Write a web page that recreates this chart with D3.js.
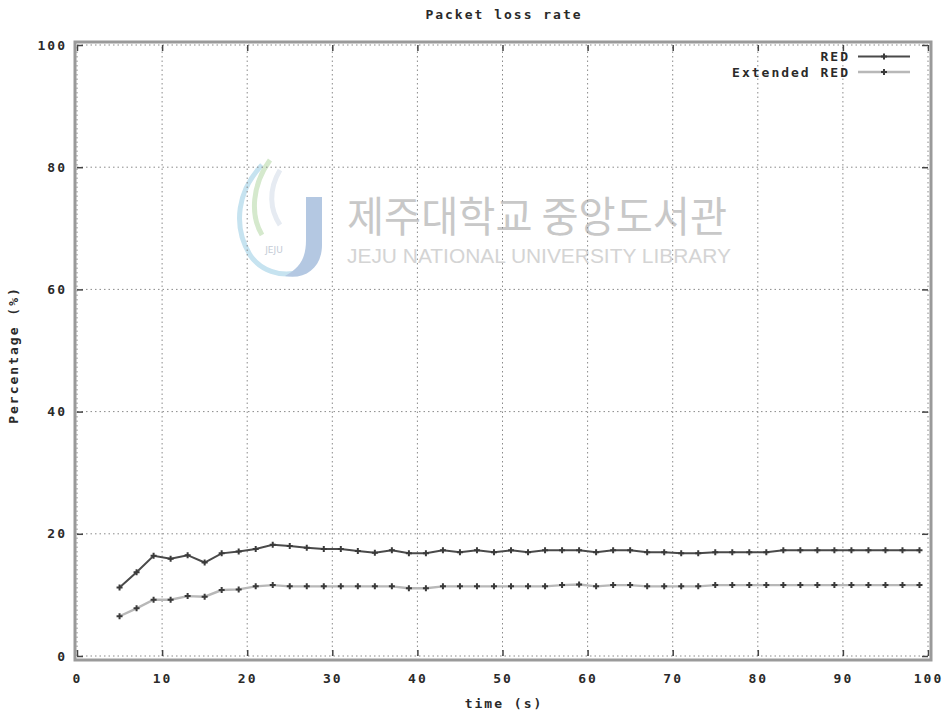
<!DOCTYPE html>
<html>
<head>
<meta charset="utf-8">
<script src="https://cdn.jsdelivr.net/npm/d3@7"></script>
<style>
  html, body { margin: 0; padding: 0; background: #fff; }
  svg { display: block; }
  text { font-family: "DejaVu Sans Mono", "Liberation Mono", monospace; fill: #2a2a2a; }
  .lbl { letter-spacing: 2px; }
</style>
</head>
<body>
<svg id="chart" width="949" height="713"></svg>
<script>
const title = "Packet loss rate";
const xLabel = "time (s)";
const yLabel = "Percentage (%)";
const seriesNames = ["RED", "Extended RED"];
const xTicks = [0, 10, 20, 30, 40, 50, 60, 70, 80, 90, 100];
const yTicks = [0, 20, 40, 60, 80, 100];
const times = [5, 7, 9, 11, 13, 15, 17, 19, 21, 23, 25, 27, 29, 31, 33, 35, 37, 39, 41, 43, 45, 47, 49,
  51, 53, 55, 57, 59, 61, 63, 65, 67, 69, 71, 73, 75, 77, 79, 81, 83, 85, 87, 89, 91, 93, 95, 97, 99];
const redValues = [11.2, 13.7, 16.4, 15.9, 16.5, 15.3, 16.8, 17.1, 17.5, 18.2, 18.0, 17.7, 17.5, 17.5, 17.2,
  16.9, 17.3, 16.8, 16.8, 17.3, 17.0, 17.3, 17.0, 17.3, 17.0, 17.3, 17.3, 17.3, 17.0, 17.3, 17.3,
  17.0, 17.0, 16.8, 16.8, 17.0, 17.0, 17.0, 17.0, 17.3, 17.3, 17.3, 17.3, 17.3, 17.3, 17.3, 17.3, 17.3];
const extValues = [6.5, 7.8, 9.2, 9.2, 9.8, 9.7, 10.8, 10.9, 11.4, 11.6, 11.4, 11.4, 11.4, 11.4, 11.4,
  11.4, 11.4, 11.1, 11.1, 11.4, 11.4, 11.4, 11.4, 11.4, 11.4, 11.4, 11.6, 11.7, 11.4, 11.6, 11.6,
  11.4, 11.4, 11.4, 11.4, 11.6, 11.6, 11.6, 11.6, 11.6, 11.6, 11.6, 11.6, 11.6, 11.6, 11.6, 11.6, 11.6];

const FS = 13;
const svg = d3.select("#chart");
const x = d3.scaleLinear().domain([0, 100]).range([77, 928]);
const y = d3.scaleLinear().domain([0, 100]).range([656, 45]);

// Watermark
const wm = svg.append("g").attr("class", "watermark");
wm.append("path").attr("d", "M262,165 C238,190 232,225 250,255 C260,270 280,278 300,272")
  .attr("fill", "none").attr("stroke", "#c6e3f0").attr("stroke-width", 5);
wm.append("path").attr("d", "M270,160 C252,185 250,215 262,235")
  .attr("fill", "none").attr("stroke", "#d5e9cd").attr("stroke-width", 5);
wm.append("path").attr("d", "M280,170 C268,190 270,210 280,225")
  .attr("fill", "none").attr("stroke", "#e6ebf2").attr("stroke-width", 5);
wm.append("path").attr("d", "M306,197 L322,197 L322,245 C322,268 305,280 285,276 C300,268 306,258 306,240 Z")
  .attr("fill", "#b4c8e2");
wm.append("text").attr("x", 274).attr("y", 253).attr("font-size", 9)
  .attr("style", "fill:#c4cbd6;font-family:'DejaVu Sans'").attr("text-anchor", "middle").text("JEJU");
wm.append("text").attr("x", 347).attr("y", 232).attr("font-size", 42)
  .attr("textLength", 380).attr("lengthAdjust", "spacingAndGlyphs")
  .attr("style", "fill:#c8c8c8;font-family:'Noto Sans CJK KR'").text("제주대학교 중앙도서관");
wm.append("text").attr("x", 347).attr("y", 263).attr("font-size", 20)
  .attr("textLength", 384).attr("lengthAdjust", "spacingAndGlyphs")
  .attr("style", "fill:#d4d4d4;font-family:'Liberation Sans'").text("JEJU NATIONAL UNIVERSITY  LIBRARY");

// Grid
const grid = svg.append("g");
grid.selectAll("line.gx").data(xTicks).join("line")
  .attr("x1", d => x(d)).attr("x2", d => x(d)).attr("y1", y(0)).attr("y2", y(100))
  .attr("stroke", "#8a8a8a").attr("stroke-width", 1).attr("stroke-dasharray", "1.5,3");
grid.selectAll("line.gy").data(yTicks).join("line")
  .attr("y1", d => y(d)).attr("y2", d => y(d)).attr("x1", x(0)).attr("x2", x(100))
  .attr("stroke", "#8a8a8a").attr("stroke-width", 1).attr("stroke-dasharray", "1.5,3");

// Axes (ticks inside, mirrored)
const axB = d3.axisBottom(x).tickValues(xTicks).tickSizeInner(-6).tickSizeOuter(0).tickPadding(18);
const axL = d3.axisLeft(y).tickValues(yTicks).tickSizeInner(-6).tickSizeOuter(0).tickPadding(10);
const axT = d3.axisTop(x).tickValues(xTicks).tickSizeInner(-6).tickSizeOuter(0).tickFormat("");
const axR = d3.axisRight(y).tickValues(yTicks).tickSizeInner(-6).tickSizeOuter(0).tickFormat("");
function styleAxis(g) {
  g.select(".domain").remove();
  g.selectAll(".tick line").attr("stroke", "#444").attr("stroke-width", 1.5);
  g.selectAll(".tick text").attr("font-size", FS).attr("font-weight", "bold").attr("fill", "#333")
    .attr("font-family", "DejaVu Sans Mono").attr("class", "lbl");
}
svg.append("g").attr("transform", `translate(0,${y(0)})`).call(axB).call(styleAxis);
svg.append("g").attr("transform", `translate(${x(0)},0)`).call(axL).call(styleAxis);
svg.append("g").attr("transform", `translate(0,${y(100)})`).call(axT).call(styleAxis);
svg.append("g").attr("transform", `translate(${x(100)},0)`).call(axR).call(styleAxis);

// Border
svg.append("rect").attr("x", x(0) - 2).attr("y", y(100) - 3).attr("width", x(100) - x(0) + 5)
  .attr("height", y(0) - y(100) + 7).attr("fill", "none").attr("stroke", "#9a9a9a").attr("stroke-width", 3);

// Series
const series = [
  { name: seriesNames[0], values: redValues, line: "#4a4a4a", w: 2 },
  { name: seriesNames[1], values: extValues, line: "#b8b8b8", w: 2.4 }
];
const lineGen = d3.line().x(d => x(d[0])).y(d => y(d[1]));
const plus = d3.symbol().type(d3.symbolCross).size(20);
series.forEach(s => {
  const pts = times.map((t, i) => [t, s.values[i]]);
  svg.append("path").datum(pts).attr("d", lineGen).attr("fill", "none")
    .attr("stroke", s.line).attr("stroke-width", s.w);
  svg.append("g").selectAll("path").data(pts).join("path")
    .attr("transform", d => `translate(${x(d[0])},${y(d[1])})`)
    .attr("d", plus).attr("fill", "#3a3a3a");
});

// Legend
const lg = svg.append("g");
series.forEach((s, i) => {
  const ly = 56.5 + i * 15.5;
  lg.append("text").attr("class", "lbl").attr("x", 850).attr("y", ly + 4.5).attr("text-anchor", "end")
    .attr("font-size", FS).attr("font-weight", "bold").text(s.name);
  lg.append("line").attr("x1", 858).attr("x2", 910).attr("y1", ly).attr("y2", ly)
    .attr("stroke", s.line).attr("stroke-width", s.w);
  lg.append("path").attr("transform", `translate(884,${ly})`).attr("d", plus).attr("fill", "#3a3a3a");
});

// Titles
svg.append("text").attr("class", "lbl").attr("x", 504).attr("y", 19).attr("text-anchor", "middle")
  .attr("font-size", FS).attr("font-weight", "bold").text(title);
svg.append("text").attr("class", "lbl").attr("x", 504).attr("y", 708).attr("text-anchor", "middle")
  .attr("font-size", FS).attr("font-weight", "bold").text(xLabel);
svg.append("text").attr("class", "lbl").attr("transform", "translate(18,355) rotate(-90)").attr("text-anchor", "middle")
  .attr("font-size", FS).attr("font-weight", "bold").text(yLabel);
</script>
</body>
</html>
